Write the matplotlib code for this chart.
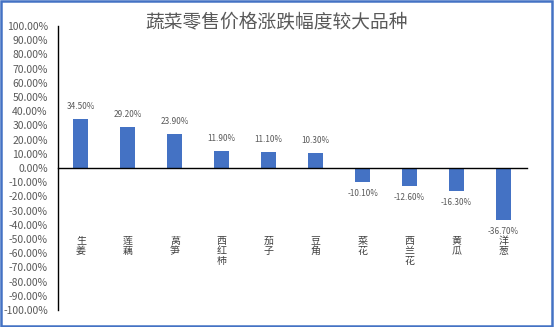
import matplotlib
matplotlib.use("Agg")
import matplotlib.pyplot as plt
from matplotlib.patches import Rectangle
from matplotlib.transforms import blended_transform_factory

plt.rcParams['font.family'] = ['Noto Sans CJK SC', 'DejaVu Sans']
plt.rcParams['axes.unicode_minus'] = False

categories = ['生姜', '莲藕', '莴笋', '西红柿', '茄子', '豆角', '菜花', '西兰花', '黄瓜', '洋葱']
changes = [34.5, 29.2, 23.9, 11.9, 11.1, 10.3, -10.1, -12.6, -16.3, -36.7]
y_ticks = list(range(-100, 101, 10))
title = '蔬菜零售价格涨跌幅度较大品种'

bar_color = '#4472C4'
text_gray = '#595959'

fig = plt.figure(figsize=(5.54, 3.27), dpi=100)
ax = fig.add_axes([0.1038, 0.052, 0.8475, 0.8685])

x = list(range(len(categories)))
ax.bar(x, changes, width=0.32, color=bar_color, zorder=2)

ax.set_xlim(-0.5, len(categories) - 0.5)
ax.set_ylim(-100, 100)
ax.set_yticks(y_ticks)
ax.set_yticklabels([f'{v:.2f}%' for v in y_ticks])
ax.tick_params(axis='y', length=0, pad=7, labelsize=7.5, labelcolor=text_gray)
ax.set_xticks([])

for s in ['top', 'right']:
    ax.spines[s].set_visible(False)
ax.spines['bottom'].set_position(('data', 0))
ax.spines['bottom'].set_linewidth(1.0)
ax.spines['left'].set_linewidth(1.0)

# value labels above / below each bar
for xi, v in zip(x, changes):
    off = 9 if v >= 0 else -8.2
    ax.annotate(f'{v:.2f}%', xy=(xi, v), xytext=(0, off), textcoords='offset points',
                ha='center', va='center', fontsize=5.9, color=text_gray)

# vertical category names, one character per line
trans = blended_transform_factory(ax.transData, ax.transAxes)
for xi, name in zip(x, categories):
    ax.text(xi, 0.262, '\n'.join(name), transform=trans, ha='center', va='top',
            fontsize=7.2, color='#404040', linespacing=1.05)

fig.text(0.4995, 0.93, title, ha='center', va='center', fontsize=13.5, color=text_gray)

fig.patches.append(Rectangle((0.001, 0.002), 0.996, 0.996, transform=fig.transFigure,
                             fill=False, edgecolor='#4472C4', linewidth=1.8))

fig.savefig('out.png', dpi=100)
